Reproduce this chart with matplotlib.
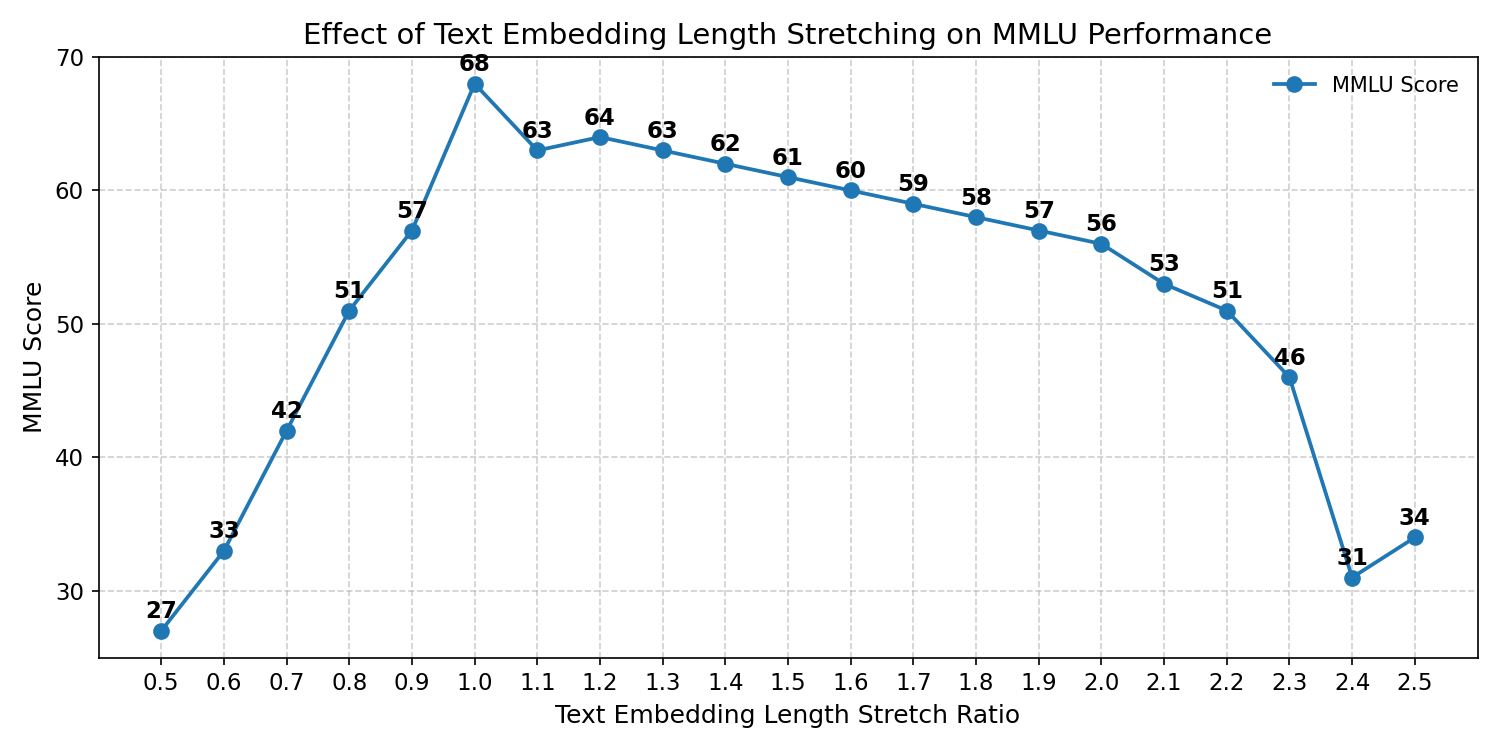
import numpy as np
import matplotlib.pyplot as plt
from matplotlib.ticker import MultipleLocator

# Stretch ratios and MMLU scores
ratios = [0.5, 0.6, 0.7, 0.8, 0.9, 1.0, 1.1, 1.2, 1.3, 1.4, 1.5,
          1.6, 1.7, 1.8, 1.9, 2.0, 2.1, 2.2, 2.3, 2.4, 2.5]
scores = [27, 33, 42, 51, 57, 68, 63, 64, 63, 62, 61,
          60, 59, 58, 57, 56, 53, 51, 46, 31, 34]
tick_labels = [f'{r:.1f}' for r in ratios]

fig, ax = plt.subplots(figsize=(10, 5), dpi=150)

ax.plot(ratios, scores, marker='o', color='#1f77b4', linewidth=1.8,
        markersize=7, label='MMLU Score')

# Value labels above each point
for x, y in zip(ratios, scores):
    ax.annotate(f'{y}', (x, y), textcoords='offset points', xytext=(0, 6),
                ha='center', fontsize=11, fontweight='bold')

ax.set_title('Effect of Text Embedding Length Stretching on MMLU Performance', fontsize=14)
ax.set_xlabel('Text Embedding Length Stretch Ratio', fontsize=12)
ax.set_ylabel('MMLU Score', fontsize=12)
ax.set_xticks(ratios)
ax.set_xticklabels(tick_labels)
ax.yaxis.set_major_locator(MultipleLocator(10))
ax.tick_params(labelsize=11)
ax.set_ylim(25, 70)
ax.grid(True, linestyle='--', alpha=0.6)
ax.legend(frameon=False, loc='upper right', fontsize=10)

plt.tight_layout()
plt.savefig('out.png')
